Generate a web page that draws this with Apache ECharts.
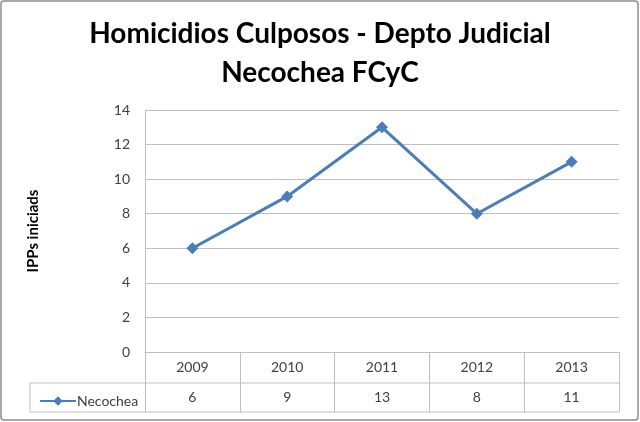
<!DOCTYPE html>
<html>
<head>
<meta charset="utf-8">
<script src="https://cdn.jsdelivr.net/npm/echarts@6/dist/echarts.min.js"></script>
<style>
  html, body { margin: 0; padding: 0; background: #fff; }
  #chart { width: 640px; height: 422px; }
</style>
</head>
<body>
<div id="chart"></div>
<script>
// datos del grafico
const years = ['2009', '2010', '2011', '2012', '2013']
const necochea = [6, 9, 13, 8, 11]
const yTicks = [0, 2, 4, 6, 8, 10, 12, 14]
const seriesName = 'Necochea'

const chart = echarts.init(document.getElementById('chart'))
const gridColor = '#bfbfbf'
const textColor = '#404040'
const font = 'Lato, "Open Sans", sans-serif'

const option = {
  animation: false,
  title: {
    text: 'Homicidios Culposos - Depto Judicial\nNecochea FCyC',
    left: 'center',
    top: 9,
    textStyle: { fontFamily: font, fontWeight: 'bold', fontSize: 28, color: '#000', lineHeight: 39 }
  },
  legend: {
    left: 34,
    top: 389,
    itemWidth: 36,
    itemHeight: 12,
    itemGap: 4,
    textStyle: { fontFamily: font, fontSize: 14, color: textColor, padding: [0, 0, 0, -4] },
    data: [seriesName]
  },
  grid: { left: 145, right: 21, top: 110, bottom: 70 },
  xAxis: [
    {
      type: 'category',
      data: years,
      boundaryGap: true,
      axisLine: { lineStyle: { color: gridColor } },
      axisTick: { show: true, length: 60, interval: 0, lineStyle: { color: gridColor } },
      axisLabel: { margin: 8, fontFamily: font, fontSize: 14, color: textColor, interval: 0 }
    },
    {
      type: 'category',
      data: necochea.map(String),
      position: 'bottom',
      offset: 31,
      boundaryGap: true,
      axisLine: { show: false },
      axisTick: { show: false },
      axisLabel: { margin: 7, fontFamily: font, fontSize: 14, color: textColor, interval: 0 }
    }
  ],
  yAxis: {
    type: 'value',
    min: yTicks[0],
    max: yTicks[yTicks.length - 1],
    interval: 2,
    name: 'IPPs iniciads',
    nameLocation: 'middle',
    nameGap: 104,
    nameRotate: 90,
    nameTextStyle: { fontFamily: font, fontWeight: 'bold', fontSize: 15, color: '#000' },
    axisLine: { show: true, lineStyle: { color: gridColor } },
    axisTick: { show: false },
    splitLine: { lineStyle: { color: gridColor } },
    axisLabel: { margin: 15, fontFamily: font, fontSize: 14, color: textColor }
  },
  series: [
    {
      name: seriesName,
      type: 'line',
      data: necochea,
      symbol: 'diamond',
      symbolSize: 12,
      lineStyle: { color: '#4a7ebb', width: 3 },
      itemStyle: { color: '#4a7ebb' }
    }
  ],
  graphic: [
    // marco exterior
    { type: 'rect', shape: { x: 1, y: 1, width: 637, height: 419, r: 3 }, style: { fill: 'none', stroke: '#8c8c8c', lineWidth: 1.5 }, silent: true },
    // lineas de la tabla
    { type: 'line', shape: { x1: 30, y1: 383, x2: 619, y2: 383 }, style: { stroke: gridColor, lineWidth: 1 }, silent: true },
    { type: 'line', shape: { x1: 30, y1: 412, x2: 619, y2: 412 }, style: { stroke: gridColor, lineWidth: 1 }, silent: true },
    { type: 'line', shape: { x1: 30, y1: 383, x2: 30, y2: 412 }, style: { stroke: gridColor, lineWidth: 1 }, silent: true }
  ]
}

option && chart.setOption(option)
</script>
</body>
</html>
